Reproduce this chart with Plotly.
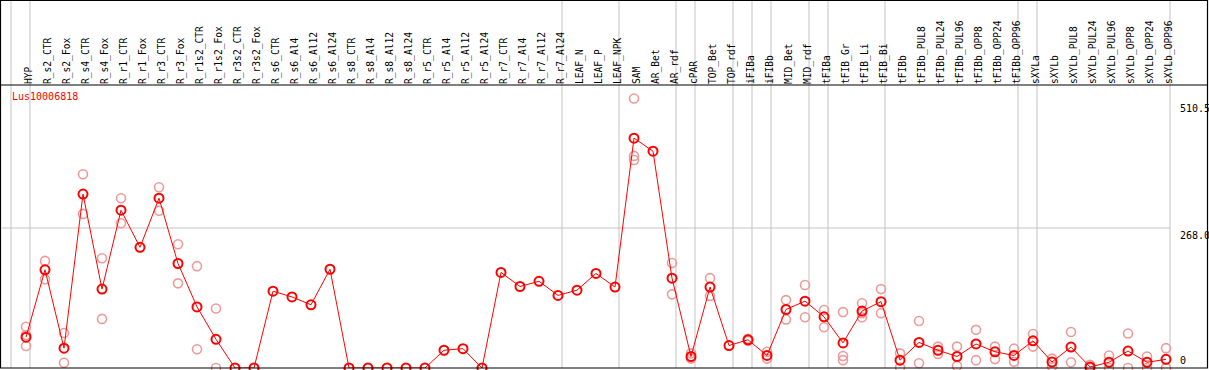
import plotly.graph_objects as go

labels = ["HYP", "R_s2_CTR", "R_s2_Fox", "R_s4_CTR", "R_s4_Fox", "R_r1_CTR", "R_r1_Fox",
          "R_r3_CTR", "R_r3_Fox", "R_r1s2_CTR", "R_r1s2_Fox", "R_r3s2_CTR", "R_r3s2_Fox",
          "R_s6_CTR", "R_s6_Al4", "R_s6_Al12", "R_s6_Al24", "R_s8_CTR", "R_s8_Al4", "R_s8_Al12",
          "R_s8_Al24", "R_r5_CTR", "R_r5_Al4", "R_r5_Al12", "R_r5_Al24", "R_r7_CTR", "R_r7_Al4",
          "R_r7_Al12", "R_r7_Al24", "LEAF_N", "LEAF_P", "LEAF_NPK", "SAM", "AR_Bet", "AR_rdf",
          "cPAR", "TOP_Bet", "TOP_rdf", "iFIBa", "iFIBb", "MID_Bet", "MID_rdf", "tFIBa",
          "tFIB_Gr", "tFIB_Li", "tFIB_Bi", "tFIBb", "tFIBb_PUL8", "tFIBb_PUL24", "tFIBb_PUL96",
          "tFIBb_OPP8", "tFIBb_OPP24", "tFIBb_OPP96", "sXYLa", "sXYLb", "sXYLb_PUL8",
          "sXYLb_PUL24", "sXYLb_PUL96", "sXYLb_OPP8", "sXYLb_OPP24", "sXYLb_OPP96"]

means = [59, 188, 38, 333, 151, 302, 231, 325, 200, 117, 55, 0, 0,
         147, 136, 121, 189, 0, 0, 0, 0, 0, 34, 37, 0, 183, 156, 166, 139,
         149, 181, 155, 440, 415, 172, 22, 155, 43, 54, 24, 112, 128, 98,
         48, 109, 127, 15, 49, 34, 22, 46, 31, 24, 52, 11.5, 40, 2, 11, 32.5, 11, 16.6]

N = None
rep_hi = [79, 205, 67, 371, 210, 325, N, 346, 237, 195, 114, N, N,
          N, N, N, N, N, N, N, N, N, N, N, N, N, N, N, N,
          N, N, N, 516, N, 201, 28, 172, N, 56, 31, 130, 159, 111,
          107, 124, 151, 28, 90, 41, 41, 73, 41, 37, 65, 18, 69, 6, 24, 66, 22, 38]
rep_lo = [42, 170, 10, 295, 94, 277, N, 301, 162, 36, 0, N, N,
          N, N, N, N, N, N, N, N, N, N, N, N, N, N, N, N,
          N, N, N, 406, N, 141, 18, 138, N, 52, 18, 93, 97, 78,
          23, 97, 105, 1, 9, 27, 4, 15, 17, 12, 41, 3, 11, 0, 0, 0, 0, 0]
rep_mid = [63, N, N, N, N, N, N, N, N, N, N, N, N,
           N, N, N, N, N, N, N, N, N, N, N, N, N, N, N, N,
           N, N, N, 398, N, N, N, N, N, N, N, N, N, N,
           15, 105, N, N, N, N, N, N, N, N, N, N, N, N, N, N, N, N]

separators_after = [-1, 0, 28, 31, 34, 35, 37, 38, 39, 41, 42, 45, 52, 53, 60]
y_ticks = [510.5, 268.0, 0]
y_tick_text = ["510.5", "268.0", "0"]
gene = "Lus10006818"

FONT = "DejaVu Sans Mono"
W, H = 1209, 370
ML, MR, MT, MB = 2, 39, 85, 2
PW = W - ML - MR
PH = H - MT - MB
XR = [-1.263, 60.21]
YR = [0, 541.7]

def xpaper(v):
    return (v - XR[0]) / (XR[1] - XR[0])

xs = list(range(len(labels)))

fig = go.Figure()
rx, ry = [], []
for reps in (rep_hi, rep_mid, rep_lo):
    for i, v in enumerate(reps):
        if v is not None:
            rx.append(i)
            ry.append(v)
fig.add_trace(go.Scatter(x=rx, y=ry, mode="markers", cliponaxis=False,
                         marker=dict(symbol="circle-open", size=9, color="#EE9A9A",
                                     line=dict(width=1.6, color="#EE9A9A")),
                         hoverinfo="skip", showlegend=False))
fig.add_trace(go.Scatter(x=xs, y=means, mode="lines+markers", cliponaxis=False,
                         line=dict(color="#FF0000", width=1),
                         marker=dict(symbol="circle-open", size=9, color="#FF0000",
                                     line=dict(width=2, color="#FF0000")),
                         showlegend=False))

shapes = []
for k in separators_after:
    px = xpaper(k + 0.21)
    shapes.append(dict(type="line", xref="paper", yref="paper", x0=px, x1=px,
                       y0=0, y1=(H) / PH, line=dict(color="#C4C4C4", width=1), layer="below"))
# gridline at the middle tick
shapes.append(dict(type="line", xref="paper", yref="y", x0=0, x1=1, y0=y_ticks[1], y1=y_ticks[1],
                   line=dict(color="#C4C4C4", width=1), layer="below"))
# frame
shapes.append(dict(type="rect", xref="paper", yref="paper",
                   x0=-1.5 / PW, x1=(W - ML - 1.5) / PW, y0=0, y1=(PH + MT - 0.5) / PH,
                   line=dict(color="black", width=1.2), fillcolor="rgba(0,0,0,0)"))
shapes.append(dict(type="line", xref="paper", yref="paper",
                   x0=-1.5 / PW, x1=(W - ML - 1.5) / PW, y0=1, y1=1,
                   line=dict(color="black", width=1.2)))

annotations = []
for v, t in zip(y_ticks, y_tick_text):
    annotations.append(dict(x=1 + 8 / PW, xref="paper", y=v, yref="y", text=t, showarrow=False,
                            xanchor="left", yanchor="bottom" if v == 0 else "top",
                            font=dict(family=FONT, size=10, color="black")))
annotations.append(dict(x=8 / PW, xref="paper", y=(PH - 12) / PH, yref="paper", text=gene,
                        showarrow=False, xanchor="left", yanchor="middle",
                        font=dict(family=FONT, size=10, color="#FF0000")))

fig.update_layout(
    width=W, height=H,
    margin=dict(l=ML, r=MR, t=MT, b=MB, pad=0),
    paper_bgcolor="white", plot_bgcolor="white",
    shapes=shapes, annotations=annotations,
    xaxis=dict(side="top", range=XR, tickmode="array", tickvals=xs, ticktext=labels,
               tickangle=-90, showgrid=False, zeroline=False, ticks="", showline=False,
               ticklabelshift=3,
               automargin=False, tickfont=dict(family=FONT, size=9.6, color="black")),
    yaxis=dict(range=YR, showgrid=False, zeroline=False, showticklabels=False,
               ticks="", showline=False, side="right", automargin=False),
)
fig.write_html("out.html", config={"displayModeBar": False},
               post_script="document.body.style.margin='0';document.body.style.overflow='hidden';")
